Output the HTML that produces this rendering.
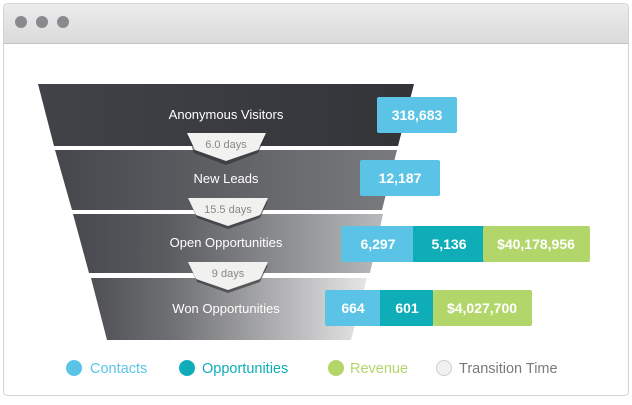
<!DOCTYPE html>
<html><head><style>
body{margin:0;background:#fff;width:632px;height:400px;overflow:hidden;font-family:"Liberation Sans",sans-serif}
</style></head><body>
<svg width="632" height="400" xmlns="http://www.w3.org/2000/svg" font-family="Liberation Sans, sans-serif">
<defs>
<linearGradient id="tb" x1="0" y1="0" x2="0" y2="1"><stop offset="0" stop-color="#ececec"/><stop offset="1" stop-color="#dadada"/></linearGradient>
<linearGradient id="g1" x1="0" x2="1"><stop offset="0" stop-color="#414349"/><stop offset="1" stop-color="#333438"/></linearGradient>
<linearGradient id="g2" x1="0" x2="1"><stop offset="0" stop-color="#45474c"/><stop offset="1" stop-color="#7a7b7e"/></linearGradient>
<linearGradient id="g3" x1="0" x2="1"><stop offset="0" stop-color="#48494e"/><stop offset="0.3" stop-color="#5a5b5f"/><stop offset="1" stop-color="#b8b9bb"/></linearGradient>
<linearGradient id="g4" x1="0" x2="1"><stop offset="0" stop-color="#4f5054"/><stop offset="0.3" stop-color="#707174"/><stop offset="1" stop-color="#e6e6e7"/></linearGradient>
</defs>
<rect x="3.5" y="3.5" width="625" height="392" rx="4" fill="#fff" stroke="#d4d4d4"/>
<path d="M4 43V8a4 4 0 0 1 4-4h616a4 4 0 0 1 4 4v35z" fill="url(#tb)"/>
<line x1="4" y1="43.5" x2="628" y2="43.5" stroke="#c4c4c4"/>
<circle cx="21" cy="22" r="6" fill="#8a898e"/><circle cx="42" cy="22" r="6" fill="#8a898e"/><circle cx="63" cy="22" r="6" fill="#8a898e"/>

<polygon points="38,84 414,84 398,146 54,146" fill="url(#g1)"/>
<polygon points="55,150 397,150 382,210 72,210" fill="url(#g2)"/>
<polygon points="73,214 383,214 370,273 89,273" fill="url(#g3)"/>
<polygon points="91,278 367,278 351,340 107,340" fill="url(#g4)"/>

<g fill="#fff" font-size="13" text-anchor="middle">
<text x="226" y="119">Anonymous Visitors</text>
<text x="226" y="183">New Leads</text>
<text x="226" y="247">Open Opportunities</text>
<text x="226" y="313">Won Opportunities</text>
</g>

<g>
<polygon points="188,136 266,136 258,153 226,165 194,153" fill="#2a2b2e" opacity="0.6"/>
<polygon points="187,133 266,133 258,150 226,161 195,150" fill="#f1f1ef"/>
<text x="226" y="148" font-size="11" fill="#888" text-anchor="middle">6.0 days</text>
<polygon points="189,201 268,201 260,218 228,229 197,218" fill="#2a2b2e" opacity="0.6"/>
<polygon points="188,198 268,198 260,215 228,226 196,215" fill="#f1f1ef"/>
<text x="228" y="213" font-size="11" fill="#888" text-anchor="middle">15.5 days</text>
<polygon points="189,265 268,265 260,282 228,293 197,282" fill="#2a2b2e" opacity="0.6"/>
<polygon points="188,262 268,262 260,279 228,290 196,279" fill="#f1f1ef"/>
<text x="228" y="277" font-size="11" fill="#888" text-anchor="middle">9 days</text>
</g>

<g font-size="14" font-weight="bold" fill="#fff" text-anchor="middle">
<rect x="377" y="97" width="80" height="36" rx="2" fill="#5bc4e6"/><text x="417" y="120">318,683</text>
<rect x="360" y="160" width="80" height="36" rx="2" fill="#5bc4e6"/><text x="400" y="183">12,187</text>
<rect x="341" y="226" width="74" height="36" rx="2" fill="#5bc4e6"/><text x="378" y="249">6,297</text>
<rect x="413" y="226" width="71" height="36" fill="#0fadb8"/><text x="449" y="249">5,136</text>
<rect x="483" y="226" width="107" height="36" rx="2" fill="#b3d66a"/><text x="536" y="249">$40,178,956</text>
<rect x="325" y="290" width="57" height="36" rx="2" fill="#5bc4e6"/><text x="353" y="313">664</text>
<rect x="380" y="290" width="53" height="36" fill="#0fadb8"/><text x="407" y="313">601</text>
<rect x="433" y="290" width="99" height="36" rx="2" fill="#b3d66a"/><text x="482" y="313">$4,027,700</text>
</g>

<g font-size="14.5">
<circle cx="74" cy="368" r="8" fill="#5bc4e6"/><text x="90" y="373" fill="#5bc4e6">Contacts</text>
<circle cx="187" cy="368" r="8" fill="#0fadb8"/><text x="202" y="373" fill="#0fadb8">Opportunities</text>
<circle cx="336" cy="368" r="8" fill="#b3d66a"/><text x="350" y="373" fill="#b3d66a">Revenue</text>
<circle cx="444" cy="368" r="7.5" fill="#f1f1ef" stroke="#ccc"/><text x="459" y="373" fill="#7a7a7a">Transition Time</text>
</g>
</svg>
</body></html>
